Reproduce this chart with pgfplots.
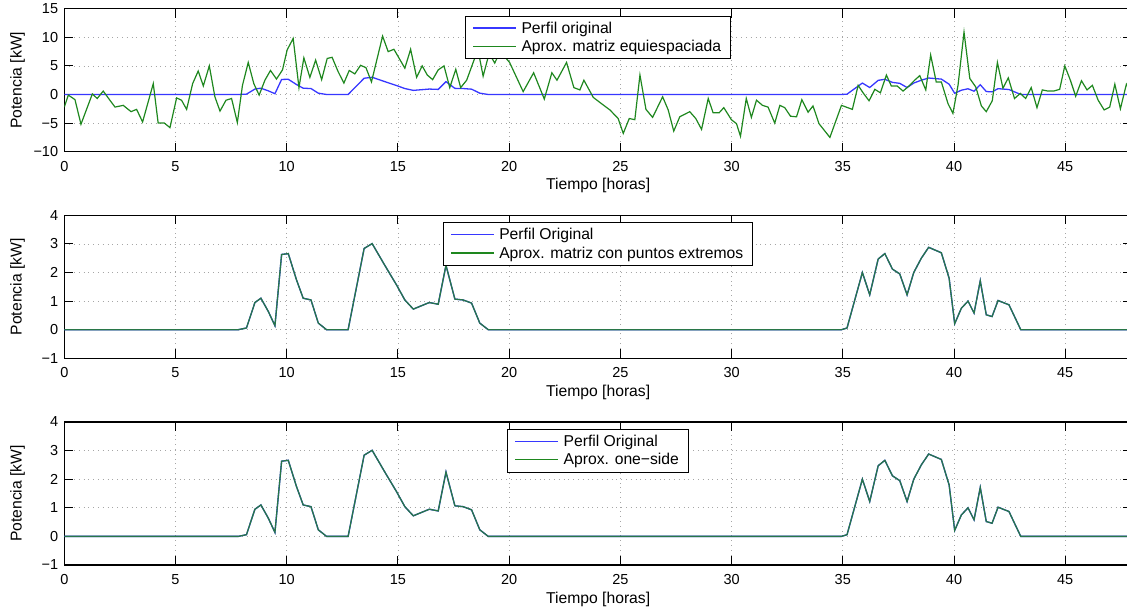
\documentclass[border=0pt]{standalone}
\usepackage{fontspec}
\setmainfont{Liberation Sans}
\usepackage{pgfplots}
\usepackage{pgfplotstable}
\pgfplotsset{compat=1.18}

\definecolor{mblue}{RGB}{55,55,255}
\definecolor{mgreen}{RGB}{30,135,30}
\definecolor{mmix}{RGB}{40,118,72}

\pgfplotstableread{
h y
0 0
7.82 0
8.19 0.06
8.57 0.95
8.84 1.10
9.17 0.64
9.47 0.14
9.77 2.63
10.07 2.66
10.44 1.74
10.74 1.10
11.09 1.04
11.42 0.23
11.79 0
12.76 0
13.14 1.5
13.48 2.84
13.84 3.01
14.41 2.25
14.94 1.56
15.31 1.04
15.69 0.72
16.41 0.95
16.81 0.89
17.16 2.25
17.56 1.07
17.93 1.04
18.31 0.93
18.68 0.23
19.06 0
34.94 0
35.19 0.06
35.88 2.0
36.21 1.22
36.59 2.47
36.89 2.66
37.23 2.12
37.56 1.95
37.89 1.22
38.19 2.0
38.53 2.5
38.86 2.88
39.43 2.69
39.78 1.8
40.03 0.21
40.33 0.75
40.63 1.0
40.9 0.58
41.18 1.71
41.45 0.52
41.71 0.46
41.98 1.02
42.47 0.87
43.0 0
48 0
}\orig

\pgfplotstableread{
h y
0 -2.2
0.18 -0.1
0.48 -0.9
0.75 -5.2
1.26 0.1
1.48 -0.7
1.75 0.6
2.05 -1.0
2.28 -2.2
2.65 -1.9
3.0 -3.0
3.25 -2.6
3.52 -4.8
4.0 1.9
4.22 -5.0
4.5 -5.0
4.75 -5.8
5.05 -0.6
5.27 -1.0
5.5 -2.6
5.77 1.9
6.02 4.1
6.25 1.5
6.52 5.0
6.77 -0.4
7.0 -2.9
7.27 -1.0
7.52 -0.7
7.78 -4.9
8.01 1.6
8.27 5.6
8.52 1.9
8.76 -0.1
9.02 2.5
9.27 4.2
9.54 2.7
9.81 4.3
10.02 7.8
10.29 9.8
10.55 1.2
10.77 6.4
11.04 3.0
11.3 6.0
11.57 2.6
11.82 6.3
12.04 6.5
12.31 4.0
12.57 2.0
12.81 4.2
13.06 3.6
13.32 5.1
13.56 4.7
13.81 2.2
14.31 10.2
14.56 7.5
14.82 7.9
15.31 4.6
15.57 7.9
15.84 3.0
16.09 5.0
16.32 3.4
16.56 2.6
16.81 4.3
17.07 5.0
17.33 1.2
17.6 4.4
17.82 1.2
18.09 2.5
18.39 5.7
18.6 7.8
18.83 3.2
19.1 7.2
19.35 5.5
19.6 7.5
19.8 6.6
20.02 5.6
20.63 0.5
21.1 3.8
21.58 -0.8
21.92 3.8
22.15 2.5
22.58 5.6
22.91 1.2
23.18 0.8
23.36 2.5
23.78 -0.5
24.15 -1.6
24.53 -2.7
24.9 -4.2
25.13 -6.8
25.4 -4.2
25.65 -4.4
25.88 3.4
26.15 -2.6
26.45 -4.0
26.9 -0.4
27.15 -2.7
27.4 -6.4
27.67 -3.9
28.12 -3.0
28.39 -4.2
28.65 -6.1
28.95 -0.7
29.17 -3.2
29.44 -3.2
29.65 -2.3
29.99 -4.4
30.22 -5.1
30.4 -7.3
30.66 -0.7
30.89 -4.0
31.12 -1.0
31.39 -1.9
31.64 -2.2
31.94 -5.0
32.17 -1.9
32.39 -2.3
32.65 -3.8
32.92 -3.9
33.16 -0.9
33.44 -3.1
33.66 -2.0
33.93 -5.1
34.42 -7.5
34.94 -1.9
35.43 -2.6
35.69 1.6
35.91 0.3
36.18 -1.1
36.44 0.9
36.69 0.3
36.96 3.4
37.18 1.5
37.44 1.5
37.71 0.6
37.98 1.5
38.23 2.5
38.46 3.3
38.73 0.8
38.95 6.9
39.2 2.2
39.43 2.2
39.73 -1.6
39.95 -3.3
40.18 1.6
40.45 10.9
40.71 2.8
40.98 1.3
41.23 -2.0
41.45 -3.0
41.72 -1.1
41.95 5.6
42.2 1.1
42.44 2.9
42.72 -0.7
42.98 0.2
43.22 -0.7
43.47 1.2
43.73 -2.3
43.97 0.8
44.22 0.6
44.48 0.6
44.75 0.9
44.98 5.0
45.23 2.5
45.47 -0.3
45.73 2.4
45.98 0.8
46.22 1.6
46.48 -1.0
46.75 -2.7
47.0 -2.2
47.23 1.8
47.48 -2.5
47.75 1.8
48.0 0.2
}\equi

\pgfplotsset{
 mstyle/.style={
  scale only axis, width=1067.7pt, height=143pt,
  xmin=0, xmax=48,
  xtick={0,5,...,45}, xticklabels={0,5,10,15,20,25,30,35,40,45},
  axis line style={line width=1.2pt},
  tick style={line width=0.9pt, black},
  major tick length=9pt,
  tick align=inside,
  xtick pos=both, ytick pos=both,
  grid=major,
  major grid style={gray!70, line width=0.7pt, dash pattern=on 0.8pt off 4pt},
  tick label style={font=\fontsize{14.5}{16}\selectfont},
  xticklabel style={anchor=base, yshift=-19.7pt},
  yticklabel style={anchor=east, inner sep=0pt, xshift=-6pt},
  every axis x label/.style={at={(axis description cs:0.5,0)}, anchor=base, yshift=-38pt, font=\fontsize{15.7}{18}\selectfont},
  every axis y label/.style={at={(axis description cs:0,0.5)}, xshift=-46.8pt, rotate=90, anchor=center, font=\fontsize{15.7}{18}\selectfont},
  xlabel={Tiempo [horas]}, ylabel={Potencia [kW]},
  legend style={at={(axis description cs:0.5,1)}, anchor=north, yshift=-7pt, draw=black, line width=1pt, fill=white, font=\fontsize{15.7}{18}\selectfont, inner xsep=7pt, inner ysep=3pt, nodes={inner sep=2.5pt, text depth=0.2em}, /tikz/every odd column/.append style={column sep=2pt}},
  legend cell align=left,
 },
 pblue/.style={color=mblue, line width=1.3pt, legend image code/.code={\draw[color=mblue, line width=1.3pt] (0pt,0.5pt) -- (43pt,0.5pt);}},
 pgreen/.style={color=mgreen, line width=1.2pt, legend image code/.code={\draw[color=mgreen, line width=1.3pt] (0pt,0.5pt) -- (43pt,0.5pt);}},
 pgreenover/.style={color=mmix, line width=1.3pt, legend image code/.code={\draw[color=mgreen, line width=1.3pt] (0pt,0.5pt) -- (43pt,0.5pt);}},
}

\begin{document}
\begin{tikzpicture}
\path[use as bounding box] (0,0) rectangle (1127pt,613pt);

\begin{axis}[mstyle, at={(64.3pt,461.3pt)}, anchor=south west,
  ymin=-10, ymax=15, ytick={-10,-5,0,5,10,15}, yticklabels={−10,−5,0,5,10,15}]
\addplot[pblue] table[x=h,y=y] {\orig};
\addplot[pgreen] table[x=h,y=y] {\equi};
\legend{Perfil original, Aprox. matriz equiespaciada}
\end{axis}

\begin{axis}[mstyle, at={(64.3pt,254.7pt)}, anchor=south west,
  ymin=-1, ymax=4, ytick={-1,0,1,2,3,4}, yticklabels={−1,0,1,2,3,4}]
\addplot[pblue] table[x=h,y=y] {\orig};
\addplot[pgreenover] table[x=h,y=y] {\orig};
\legend{Perfil Original, Aprox. matriz con puntos extremos}
\end{axis}

\begin{axis}[mstyle, at={(64.3pt,48pt)}, anchor=south west,
  ymin=-1, ymax=4, ytick={-1,0,1,2,3,4}, yticklabels={−1,0,1,2,3,4}]
\addplot[pblue] table[x=h,y=y] {\orig};
\addplot[pgreenover] table[x=h,y=y] {\orig};
\legend{Perfil Original, Aprox. one−side}
\end{axis}
\end{tikzpicture}
\end{document}
